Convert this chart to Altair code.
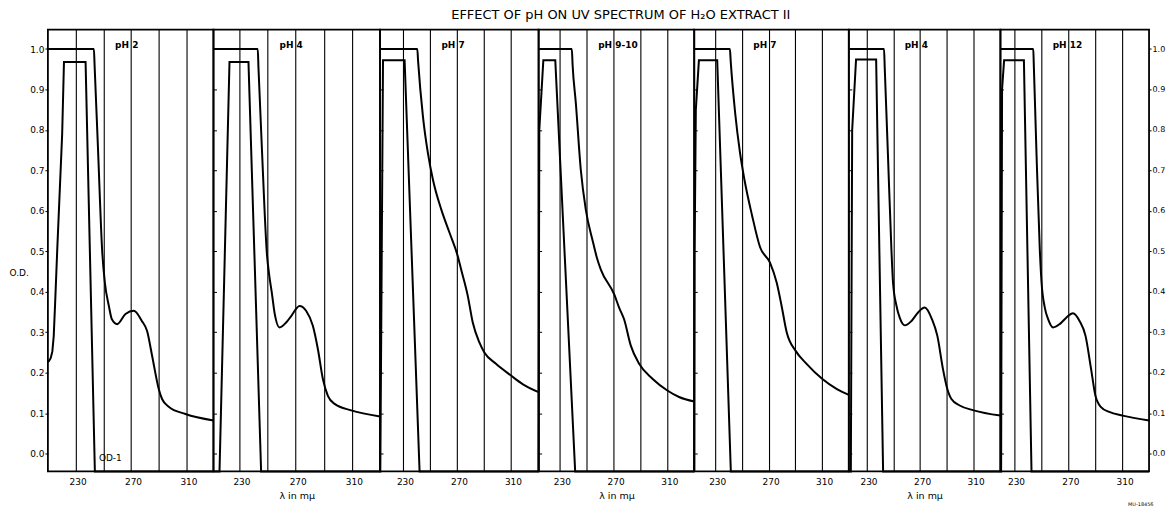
import altair as alt
import pandas as pd

# ---------------- data ----------------
TITLE = "EFFECT OF pH ON UV SPECTRUM OF H\u2082O EXTRACT II"
PANEL_LABELS = ["pH 2", "pH 4", "pH 7", "pH 9-10", "pH 7", "pH 4", "pH 12"]
X_TITLES = ["", "\u03bb in m\u03bc", "", "\u03bb in m\u03bc", "", "\u03bb in m\u03bc", "MU-18456"]
X_GRID = [230, 250, 270, 290, 310]
X_LABELED = [230, 270, 310]
Y_TICKS = [0.0, 0.1, 0.2, 0.3, 0.4, 0.5, 0.6, 0.7, 0.8, 0.9, 1.0]
Y_DOMAIN = [-0.044, 1.048]
X_DOMAINS = [[210.0, 329.5], [211.5, 330.0], [213.0, 330.5], [214.2, 330.0],
             [214.3, 330.0], [216.8, 330.0], [220.0, 329.5]]

P1_SPEC_X = [210.0, 243.2, 243.7, 246.2, 249.2, 251.1, 254.0, 256.2, 260.0, 266.0, 272.0, 277.8, 281.6, 285.2, 290.0, 292.4, 297.2, 309.3, 329.5]
P1_SPEC_Y = [1.0, 1.0, 0.96, 0.75, 0.50, 0.423, 0.365, 0.332, 0.320, 0.345, 0.353, 0.328, 0.303, 0.242, 0.160, 0.135, 0.116, 0.098, 0.082]
P1_OD_X = [210.0, 210.8, 212.0, 213.2, 214.2, 215.2, 216.7, 220.3, 221.6, 237.2, 243.9, 329.5]
P1_OD_Y = [0.226, 0.229, 0.236, 0.252, 0.29, 0.37, 0.50, 0.79, 0.968, 0.968, -0.044, -0.044]

P2_SPEC_X = [211.5, 243.0, 243.5, 246.0, 249.6, 251.2, 253.0, 254.9, 258.5, 263.2, 266.8, 272.7, 277.4, 282.2, 285.8, 289.3, 292.9, 297.7, 309.5, 330.0]
P2_SPEC_Y = [1.0, 1.0, 0.955, 0.75, 0.49, 0.44, 0.398, 0.349, 0.312, 0.324, 0.34, 0.365, 0.353, 0.316, 0.258, 0.185, 0.143, 0.123, 0.107, 0.092]
P2_OD_X = [211.5, 215.8, 222.9, 236.4, 245.4, 330.0]
P2_OD_Y = [-0.044, -0.044, 0.968, 0.968, -0.044, -0.044]

P3_SPEC_X = [213.0, 240.6, 241.2, 244.8, 248.5, 252.2, 258.4, 264.5, 270.6, 273.1, 278.0, 281.7, 286.6, 290.3, 298.9, 310.0, 318.6, 330.5]
P3_SPEC_Y = [1.0, 1.0, 0.97, 0.833, 0.742, 0.677, 0.603, 0.546, 0.488, 0.455, 0.39, 0.324, 0.275, 0.25, 0.222, 0.193, 0.172, 0.152]
P3_OD_X = [213.0, 213.2, 215.2, 231.2, 242.3, 330.5]
P3_OD_Y = [-0.044, -0.044, 0.972, 0.972, -0.044, -0.044]

P4_SPEC_X = [214.2, 238.9, 239.5, 241.9, 245.6, 249.3, 254.5, 257.5, 260.5, 270.4, 274.1, 277.8, 282.8, 289.0, 298.9, 310.0, 318.7, 330.0]
P4_SPEC_Y = [1.0, 1.0, 0.96, 0.866, 0.701, 0.603, 0.525, 0.485, 0.455, 0.394, 0.361, 0.332, 0.267, 0.222, 0.185, 0.156, 0.14, 0.129]
P4_OD_X = [214.2, 214.5, 214.7, 217.7, 226.6, 241.4, 330.0]
P4_OD_Y = [-0.044, 0.5, 0.80, 0.972, 0.972, -0.044, -0.044]

P5_SPEC_X = [214.3, 241.0, 241.6, 245.0, 248.5, 252.0, 257.5, 263.6, 271.0, 276.0, 279.7, 283.5, 290.2, 298.4, 310.0, 320.8, 330.0]
P5_SPEC_Y = [1.0, 1.0, 0.97, 0.84, 0.745, 0.675, 0.59, 0.51, 0.472, 0.423, 0.365, 0.30, 0.254, 0.222, 0.185, 0.16, 0.145]
P5_OD_X = [214.3, 214.6, 215.5, 217.8, 231.5, 241.7, 330.0]
P5_OD_Y = [-0.044, 0.5, 0.85, 0.972, 0.972, -0.044, -0.044]

P6_SPEC_X = [216.8, 243.1, 243.6, 246.0, 248.6, 249.8, 252.4, 254.8, 258.6, 263.6, 268.5, 273.5, 278.9, 282.9, 287.1, 289.7, 293.4, 299.6, 310.0, 330.0]
P6_SPEC_Y = [1.0, 1.0, 0.955, 0.74, 0.505, 0.423, 0.365, 0.336, 0.317, 0.328, 0.349, 0.361, 0.332, 0.291, 0.209, 0.168, 0.135, 0.119, 0.107, 0.094]
P6_OD_X = [216.8, 218.3, 219.3, 222.2, 237.2, 242.4, 330.0]
P6_OD_Y = [-0.044, -0.044, 0.8, 0.974, 0.974, -0.044, -0.044]

P7_SPEC_X = [220.0, 244.2, 244.6, 246.5, 249.0, 250.3, 252.7, 255.2, 258.8, 263.6, 268.5, 273.4, 278.3, 282.7, 286.8, 290.0, 294.1, 300.2, 310.0, 329.5]
P7_SPEC_Y = [1.0, 1.0, 0.96, 0.75, 0.505, 0.423, 0.361, 0.332, 0.312, 0.32, 0.336, 0.347, 0.328, 0.291, 0.209, 0.143, 0.115, 0.103, 0.094, 0.082]
P7_OD_X = [220.0, 220.5, 221.2, 222.7, 237.3, 242.9, 329.5]
P7_OD_Y = [-0.044, -0.044, 0.9, 0.972, 0.972, -0.044, -0.044]

OD1_NOTE = "OD-1"

SPEC_XS = [P1_SPEC_X, P2_SPEC_X, P3_SPEC_X, P4_SPEC_X, P5_SPEC_X, P6_SPEC_X, P7_SPEC_X]
SPEC_YS = [P1_SPEC_Y, P2_SPEC_Y, P3_SPEC_Y, P4_SPEC_Y, P5_SPEC_Y, P6_SPEC_Y, P7_SPEC_Y]
OD_XS = [P1_OD_X, P2_OD_X, P3_OD_X, P4_OD_X, P5_OD_X, P6_OD_X, P7_OD_X]
OD_YS = [P1_OD_Y, P2_OD_Y, P3_OD_Y, P4_OD_Y, P5_OD_Y, P6_OD_Y, P7_OD_Y]

# ---------------- layout ----------------
PANEL_WIDTHS = [166, 167, 159, 156, 155, 152, 149]
PLOT_H = 443
FONT = "DejaVu Sans"
LABEL_X = 258.5
LABEL_Y = 1.009

label_expr = "indexof(" + str(X_LABELED) + ", datum.value) >= 0 ? datum.label : ''"
y_scale = alt.Scale(domain=Y_DOMAIN, nice=False, zero=False)


def x_axis(i):
    kw = dict(values=X_GRID, grid=True, gridColor="black", gridWidth=1.1, gridOpacity=1,
              ticks=False, domain=False, labelExpr=label_expr, labelFontSize=9,
              labelPadding=6, labelOffset=2, labelColor="black", labelFont=FONT,
              labelFlush=False)
    t = X_TITLES[i]
    if t == "":
        kw["title"] = None
    elif i == 6:
        kw.update(title=t, titleFontSize=5, titleFontWeight="normal", titleAnchor="end",
                  titleY=30, titleX=PANEL_WIDTHS[i] + 4, titleAlign="right",
                  titleColor="black", titleFont=FONT)
    else:
        kw.update(title=t, titleFontSize=9.5, titleFontWeight="normal", titlePadding=4,
                  titleColor="black", titleFont=FONT)
    return alt.Axis(**kw)


left_label_axis = alt.Axis(orient="left", values=Y_TICKS, format=".1f", labelFontSize=9,
                           labelPadding=1, tickSize=3, tickColor="black", domain=False,
                           grid=False, labelColor="black", labelFont=FONT,
                           title="O.D.", titleAngle=0, titleAlign="left",
                           titleBaseline="middle", titleX=-39, titleY=244,
                           titleFontSize=9, titleFontWeight="normal", titleColor="black",
                           titleFont=FONT)
inner_tick_axis = alt.Axis(orient="left", values=Y_TICKS, labels=False, domain=False,
                           grid=False, tickSize=3, offset=-3, tickColor="black",
                           title=None)
right_label_axis = alt.Axis(orient="right", values=Y_TICKS, format=".1f",
                            labelFontSize=8, labelPadding=1, tickSize=2,
                            tickColor="black", domain=False, grid=False,
                            labelColor="black", labelFont=FONT, title=None)

panels = []
for i in range(7):
    xs = alt.Scale(domain=X_DOMAINS[i], nice=False, zero=False)
    xenc = alt.X("x:Q", scale=xs, axis=x_axis(i))
    yaxis_main = left_label_axis if i == 0 else inner_tick_axis
    yenc = alt.Y("y:Q", scale=y_scale, axis=yaxis_main)

    df_spec = pd.DataFrame({"x": SPEC_XS[i], "y": SPEC_YS[i]})
    df_od = pd.DataFrame({"x": OD_XS[i], "y": OD_YS[i]})
    df_lab = pd.DataFrame({"x": [LABEL_X], "y": [LABEL_Y], "t": [PANEL_LABELS[i]]})

    od_line = alt.Chart(df_od).mark_line(color="black", strokeWidth=2, interpolate="linear").encode(
        x=xenc, y=yenc)
    lab = alt.Chart(df_lab).mark_text(align="left", baseline="middle", fontSize=9,
                                      fontWeight="bold", font=FONT, color="black").encode(
        x=xenc, y=yenc, text="t:N")
    layers = [od_line, lab]
    if i == 0:
        df_note = pd.DataFrame({"x": [246.8], "y": [-0.012], "t": [OD1_NOTE]})
        note = alt.Chart(df_note).mark_text(align="left", baseline="middle", fontSize=9,
                                            font=FONT, color="black").encode(
            x=xenc, y=yenc, text="t:N")
        layers.append(note)

    if i == 6:
        inner = alt.layer(*layers)
        spec_line = alt.Chart(df_spec).mark_line(color="black", strokeWidth=2, interpolate="monotone").encode(
            x=xenc, y=alt.Y("y:Q", scale=y_scale, axis=right_label_axis))
        p = alt.layer(inner, spec_line).resolve_scale(y="independent")
    else:
        spec_line = alt.Chart(df_spec).mark_line(color="black", strokeWidth=2, interpolate="monotone").encode(
            x=xenc, y=yenc)
        p = alt.layer(od_line, spec_line, *layers[1:])
    p = p.properties(width=PANEL_WIDTHS[i], height=PLOT_H)
    panels.append(p)

chart = alt.hconcat(*panels, spacing=0, bounds="flush").properties(
    title=alt.TitleParams(text=TITLE, fontSize=13, fontWeight="normal", font=FONT,
                          anchor="middle", frame="bounds", dx=34, offset=-3,
                          baseline="alphabetic", color="black"),
    padding={"left": 0, "top": 0, "right": 0, "bottom": 0},
).configure(font=FONT).configure_view(stroke="black", strokeWidth=1.8)

chart.save("out.html", embed_options={"renderer": "svg", "actions": False})
